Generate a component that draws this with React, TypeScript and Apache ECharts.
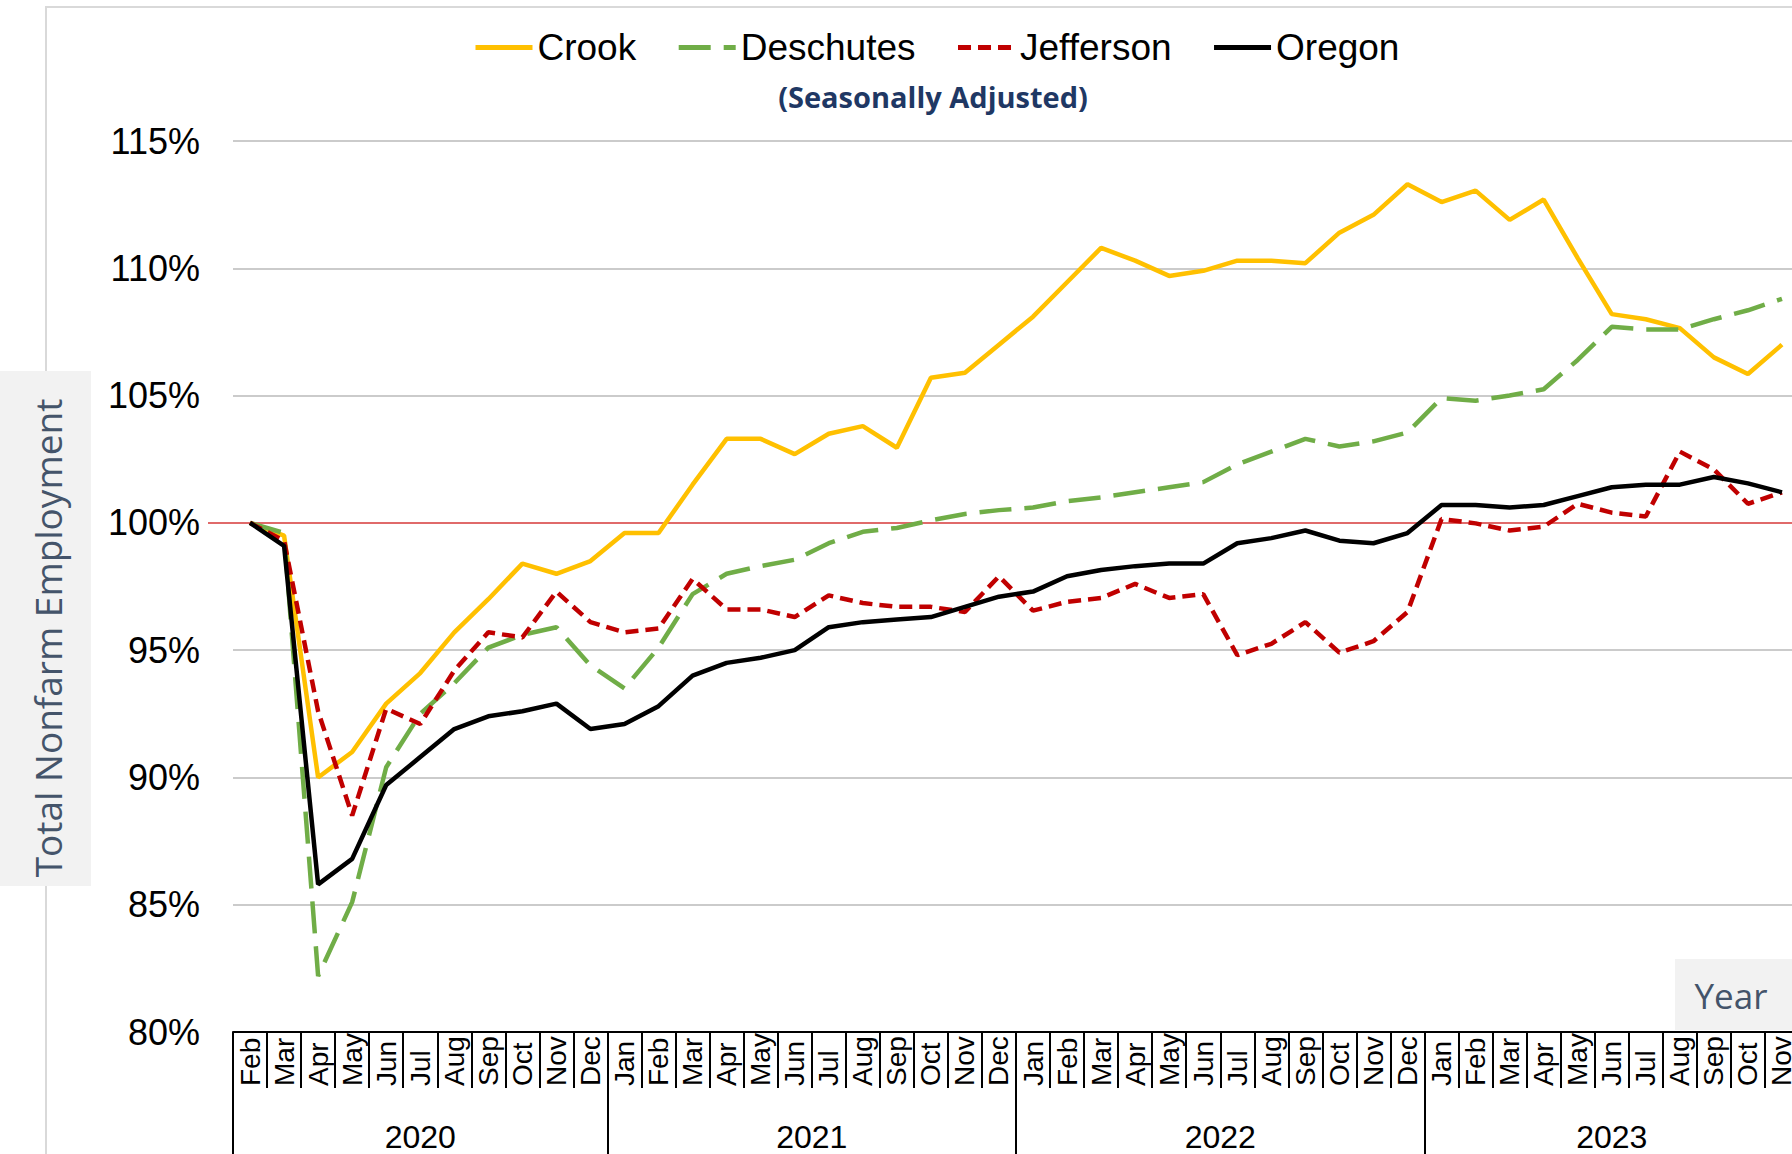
import React, { useEffect, useRef } from "react";
import * as echarts from "echarts";

const months = [
  "Feb", "Mar", "Apr", "May", "Jun", "Jul", "Aug", "Sep", "Oct", "Nov", "Dec",
  "Jan", "Feb", "Mar", "Apr", "May", "Jun", "Jul", "Aug", "Sep", "Oct", "Nov", "Dec",
  "Jan", "Feb", "Mar", "Apr", "May", "Jun", "Jul", "Aug", "Sep", "Oct", "Nov", "Dec",
  "Jan", "Feb", "Mar", "Apr", "May", "Jun", "Jul", "Aug", "Sep", "Oct", "Nov",
];
const years = ["2020", "2021", "2022", "2023"];
const yearMonthCounts = [11, 12, 12, 11];

const crook = [
  100.0, 99.5, 90.0, 91.0, 92.9, 94.1, 95.7, 97.0, 98.4, 98.0, 98.5,
  99.6, 99.6, 101.5, 103.3, 103.3, 102.7, 103.5, 103.8, 102.95, 105.7, 105.9, 107.0,
  108.1, 109.45, 110.8, 110.3, 109.7, 109.9, 110.3, 110.3, 110.2, 111.4, 112.1, 113.3,
  112.6, 113.05, 111.9, 112.7, 110.4, 108.2, 108.0, 107.65, 106.5, 105.85, 107.0,
];
const deschutes = [
  100.0, 99.6, 82.2, 85.1, 90.4, 92.5, 93.7, 95.1, 95.6, 95.9, 94.4,
  93.5, 95.1, 97.2, 98.0, 98.3, 98.55, 99.2, 99.65, 99.8, 100.1, 100.35, 100.5,
  100.6, 100.85, 101.0, 101.2, 101.4, 101.6, 102.3, 102.8, 103.3, 103.0, 103.2, 103.55,
  104.9, 104.8, 105.0, 105.25, 106.4, 107.7, 107.6, 107.6, 108.0, 108.35, 108.8,
];
const jefferson = [
  100.0, 99.3, 92.6, 88.5, 92.7, 92.1, 94.2, 95.7, 95.5, 97.3, 96.1,
  95.7, 95.85, 97.8, 96.6, 96.6, 96.3, 97.15, 96.85, 96.7, 96.7, 96.5, 97.9,
  96.55, 96.9, 97.05, 97.6, 97.05, 97.2, 94.8, 95.25, 96.1, 94.9, 95.35, 96.5,
  100.15, 99.98, 99.7, 99.85, 100.75, 100.4, 100.25, 102.8, 102.1, 100.75, 101.2,
];
const oregon = [
  100.0, 99.1, 85.8, 86.8, 89.7, 90.8, 91.9, 92.4, 92.6, 92.9, 91.9,
  92.1, 92.8, 94.0, 94.5, 94.7, 95.0, 95.9, 96.1, 96.2, 96.3, 96.7, 97.1,
  97.3, 97.9, 98.15, 98.3, 98.4, 98.4, 99.2, 99.4, 99.7, 99.3, 99.2, 99.6,
  100.7, 100.7, 100.6, 100.7, 101.05, 101.4, 101.5, 101.5, 101.8, 101.55, 101.2,
];
const yTicks = [80, 85, 90, 95, 100, 105, 110, 115];

export default function App() {
  const ref = useRef<HTMLDivElement>(null);
  useEffect(() => {
    if (!ref.current) return;
    document.body.style.overflow = "hidden";
    const chart = echarts.init(ref.current, undefined, { renderer: "svg" });

    const yearStarts: number[] = [];
    const yearCenters: number[] = [];
    let acc = 0;
    yearMonthCounts.forEach((c) => {
      yearStarts.push(acc);
      yearCenters.push(acc + c / 2);
      acc += c;
    });
    yearStarts.push(acc);

    const splitColors = yTicks.map((t) => (t === 100 ? "#E06A6A" : "#CBCBCB"));
    const font = "Liberation Sans, Arial, sans-serif";
    const lw = 4.5;

    chart.setOption({
      animation: false,
      textStyle: { fontFamily: font },
      legend: {
        left: 468,
        top: 24,
        itemWidth: 57,
        itemHeight: 20,
        itemGap: 40,
        itemStyle: { color: "rgba(0,0,0,0)", borderColor: "rgba(0,0,0,0)", borderWidth: 0 },
        lineStyle: { width: 5 },
        textStyle: { fontSize: 37, color: "#000", fontFamily: font },
        data: ["Crook", "Deschutes", "Jefferson", "Oregon"],
      },
      grid: { left: 233, right: 31, top: 141, bottom: 122, containLabel: false },
      xAxis: [
        {
          type: "category",
          data: months,
          boundaryGap: true,
          axisLine: { show: true, lineStyle: { color: "#000", width: 2 } },
          axisTick: { show: true, interval: 0, length: 56, lineStyle: { color: "#000", width: 2 } },
          axisLabel: {
            interval: 0,
            rotate: 90,
            align: "left",
            verticalAlign: "middle",
            margin: 54,
            fontSize: 28,
            color: "#000",
            fontFamily: font,
          },
          splitLine: { show: false },
        },
        {
          type: "value",
          min: 0,
          max: months.length,
          position: "bottom",
          axisLine: { show: false },
          axisTick: {
            show: true,
            customValues: yearStarts,
            length: 140,
            lineStyle: { color: "#000", width: 2 },
          },
          axisLabel: {
            show: true,
            customValues: yearCenters,
            margin: 89,
            fontSize: 32,
            color: "#000",
            fontFamily: font,
            formatter: (v: number) => {
              const k = yearCenters.findIndex((c) => Math.abs(c - v) < 1e-6);
              return k >= 0 ? years[k] : "";
            },
          },
          splitLine: { show: false },
        },
      ],
      yAxis: [
        {
          type: "value",
          min: 80,
          max: 115,
          interval: 5,
          axisLine: { show: false },
          axisTick: { show: false },
          axisLabel: {
            formatter: "{value}%",
            fontSize: 36,
            margin: 33,
            color: "#000",
            fontFamily: font,
          },
          splitLine: { show: true, lineStyle: { color: splitColors, width: 2 } },
        },
        {
          type: "value",
          min: 80,
          max: 115,
          position: "left",
          axisLine: { show: false },
          axisLabel: { show: false },
          splitLine: { show: false },
          axisTick: {
            show: true,
            customValues: [100],
            length: 25,
            lineStyle: { color: "#E06A6A", width: 2 },
          },
        },
      ],
      series: [
        {
          name: "Crook",
          type: "line",
          data: crook,
          symbol: "none",
          lineStyle: { color: "#FFC000", width: lw },
          itemStyle: { color: "#FFC000" },
        },
        {
          name: "Deschutes",
          type: "line",
          data: deschutes,
          symbol: "none",
          lineStyle: { color: "#70AD47", width: lw, type: [32, 13] },
          itemStyle: { color: "#70AD47" },
        },
        {
          name: "Jefferson",
          type: "line",
          data: jefferson,
          symbol: "none",
          lineStyle: { color: "#C00000", width: lw, type: [13, 7] },
          itemStyle: { color: "#C00000" },
        },
        {
          name: "Oregon",
          type: "line",
          data: oregon,
          symbol: "none",
          lineStyle: { color: "#000000", width: lw },
          itemStyle: { color: "#000000" },
        },
      ],
      graphic: [
        {
          type: "rect",
          silent: true,
          z: -10,
          shape: { x: 46, y: 7, width: 2000, height: 1400 },
          style: { fill: "none", stroke: "#D9D9D9", lineWidth: 2 },
        },
        {
          type: "rect",
          silent: true,
          shape: { x: 0, y: 371, width: 91, height: 515 },
          style: { fill: "#F2F2F2" },
        },
        {
          type: "text",
          silent: true,
          x: 47,
          y: 638,
          rotation: Math.PI / 2,
          style: {
            text: "Total Nonfarm Employment",
            fill: "#44546A",
            font: "37px 'Open Sans', sans-serif",
            textAlign: "center",
            textVerticalAlign: "middle",
          },
        },
        {
          type: "text",
          silent: true,
          x: 933,
          y: 96,
          style: {
            text: "(Seasonally Adjusted)",
            fill: "#1F3864",
            font: "bold 29px 'Open Sans', sans-serif",
            textAlign: "center",
            textVerticalAlign: "middle",
          },
        },
        {
          type: "rect",
          silent: true,
          shape: { x: 1675, y: 959, width: 200, height: 71 },
          style: { fill: "#F2F2F2" },
        },
        {
          type: "text",
          silent: true,
          x: 1731,
          y: 995,
          style: {
            text: "Year",
            fill: "#44546A",
            font: "35px 'Open Sans', sans-serif",
            textAlign: "center",
            textVerticalAlign: "middle",
          },
        },
      ],
    });
    return () => chart.dispose();
  }, []);

  return (
    <div
      style={{
        position: "fixed",
        left: 0,
        top: 0,
        width: 1792,
        height: 1154,
        overflow: "hidden",
        background: "#fff",
      }}
    >
      <div ref={ref} style={{ width: 1830, height: 1154 }} />
    </div>
  );
}
